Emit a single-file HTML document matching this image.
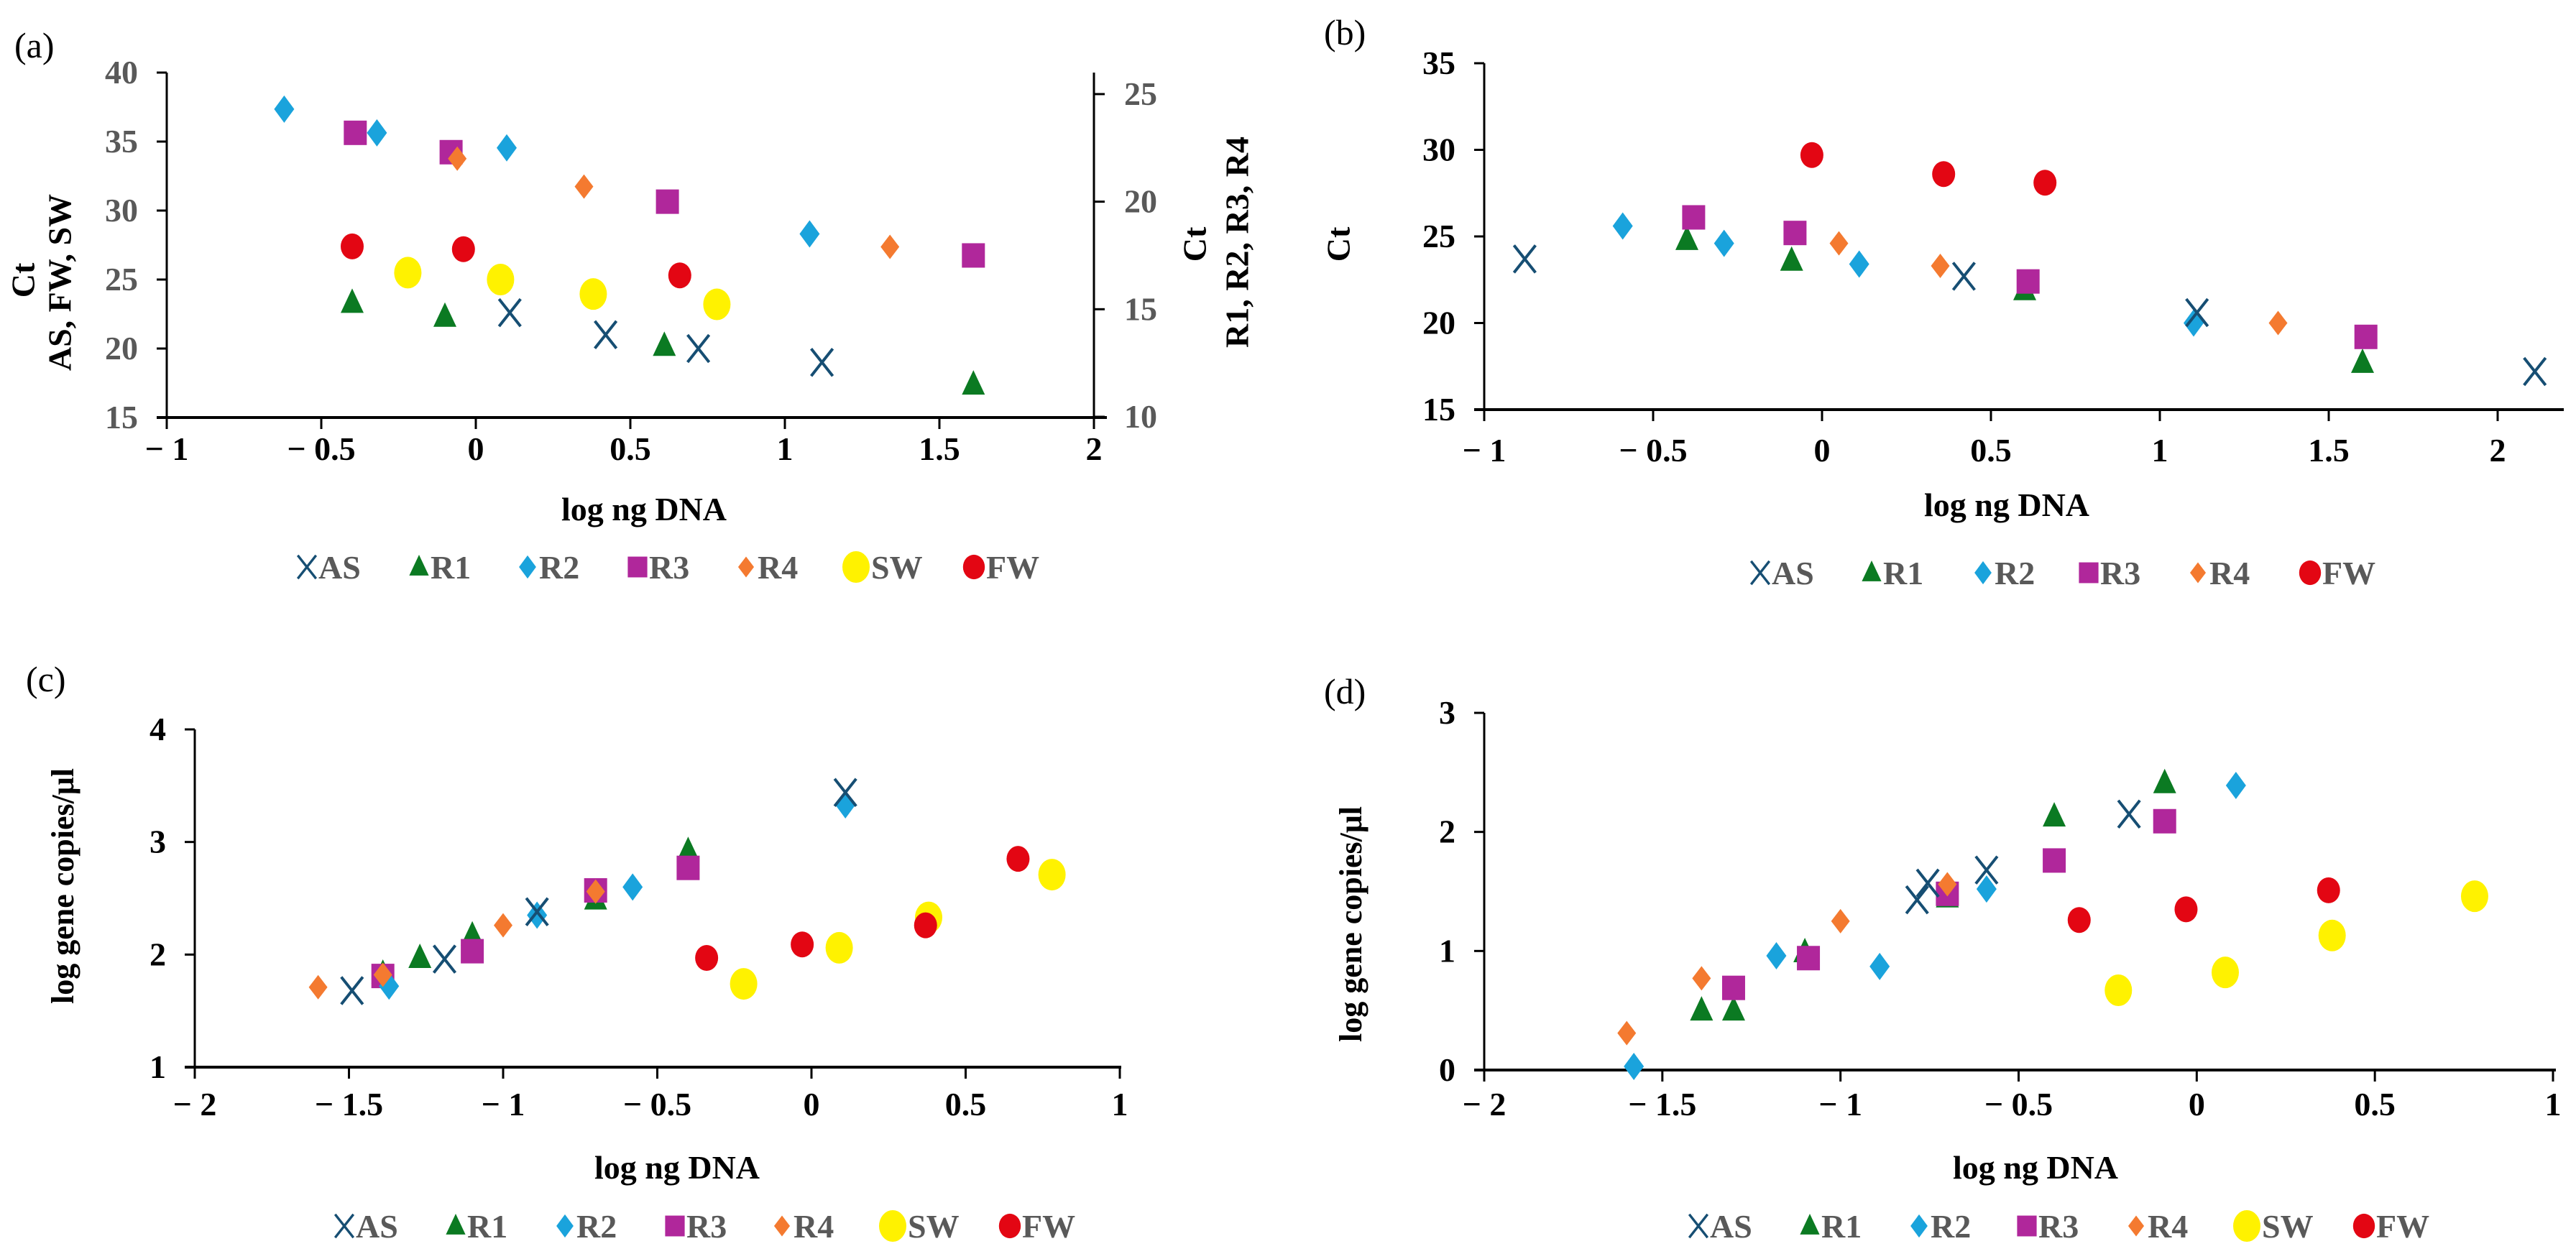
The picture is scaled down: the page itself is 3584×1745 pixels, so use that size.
<!DOCTYPE html>
<html><head><meta charset="utf-8">
<style>
html,body{margin:0;padding:0;background:#fff;}
svg{display:block;}
text{font-family:"Liberation Serif",serif;}
</style></head>
<body>
<svg id="fig" xmlns="http://www.w3.org/2000/svg" width="3584" height="1745" viewBox="0 0 3584 1745">
<rect x="0" y="0" width="3584" height="1745" fill="#fff"/>
</svg>
<script>
// ===== Panel (a) data (AS, SW, FW on left axis; R1-R4 on right axis) =====
const aAS_x=[0.11,0.42,0.72,1.12];        const aAS_y=[22.6,21.0,20.0,19.0];
const aR1_x=[-0.40,-0.10,0.61,1.61];      const aR1_y=[15.3,14.65,13.3,11.5];
const aR2_x=[-0.62,-0.32,0.10,1.08];      const aR2_y=[24.3,23.2,22.5,18.5];
const aR3_x=[-0.39,-0.08,0.62,1.61];      const aR3_y=[23.2,22.3,20.0,17.5];
const aR4_x=[-0.06,0.35,1.34];            const aR4_y=[22.0,20.7,17.9];
const aSW_x=[-0.22,0.08,0.38,0.78];       const aSW_y=[25.5,25.0,23.95,23.2];
const aFW_x=[-0.40,-0.04,0.66];           const aFW_y=[27.4,27.2,25.3];
const aXTicks=["\u2212 1","\u2212 0.5","0","0.5","1","1.5","2"];
const aYTicks=["15","20","25","30","35","40"];
const aY2Ticks=["10","15","20","25"];
// ===== Panel (b) =====
const bAS_x=[-0.88,0.42,1.11,2.11];       const bAS_y=[23.7,22.7,20.6,17.2];
const bR1_x=[-0.40,-0.09,0.60,1.60];      const bR1_y=[24.8,23.6,21.9,17.7];
const bR2_x=[-0.59,-0.29,0.11,1.10];      const bR2_y=[25.6,24.6,23.4,20.0];
const bR3_x=[-0.38,-0.08,0.61,1.61];      const bR3_y=[26.1,25.2,22.4,19.2];
const bR4_x=[0.05,0.35,1.35];             const bR4_y=[24.6,23.3,20.0];
const bFW_x=[-0.03,0.36,0.66];            const bFW_y=[29.7,28.6,28.1];
const bXTicks=["\u2212 1","\u2212 0.5","0","0.5","1","1.5","2"];
const bYTicks=["15","20","25","30","35"];
// ===== Panel (c) =====
const cAS_x=[-1.49,-1.19,-0.89,0.11];     const cAS_y=[1.68,1.96,2.38,3.44];
const cR1_x=[-1.39,-1.27,-1.10,-0.70,-0.40]; const cR1_y=[1.83,1.97,2.17,2.49,2.92];
const cR2_x=[-1.37,-0.89,-0.58,0.11];     const cR2_y=[1.72,2.35,2.60,3.33];
const cR3_x=[-1.39,-1.10,-0.70,-0.40];    const cR3_y=[1.81,2.03,2.57,2.77];
const cR4_x=[-1.60,-1.39,-1.00,-0.70];    const cR4_y=[1.71,1.82,2.26,2.56];
const cSW_x=[-0.22,0.09,0.38,0.78];       const cSW_y=[1.74,2.06,2.33,2.71];
const cFW_x=[-0.34,-0.03,0.37,0.67];      const cFW_y=[1.97,2.09,2.26,2.85];
const cXTicks=["\u2212 2","\u2212 1.5","\u2212 1","\u2212 0.5","0","0.5","1"];
const cYTicks=["1","2","3","4"];
// ===== Panel (d) =====
const dAS_x=[-0.785,-0.755,-0.59,-0.19];  const dAS_y=[1.43,1.57,1.68,2.15];
const dR1_x=[-1.39,-1.30,-1.10,-0.70,-0.40,-0.09]; const dR1_y=[0.50,0.50,0.99,1.45,2.13,2.41];
const dR2_x=[-1.58,-1.18,-0.89,-0.59,0.11]; const dR2_y=[0.03,0.96,0.87,1.52,2.39];
const dR3_x=[-1.30,-1.09,-0.70,-0.40,-0.09]; const dR3_y=[0.69,0.94,1.48,1.76,2.09];
const dR4_x=[-1.60,-1.39,-1.00,-0.70];    const dR4_y=[0.31,0.77,1.25,1.56];
const dSW_x=[-0.22,0.08,0.38,0.78];       const dSW_y=[0.67,0.82,1.13,1.46];
const dFW_x=[-0.33,-0.03,0.37];           const dFW_y=[1.26,1.35,1.51];
const dXTicks=["\u2212 2","\u2212 1.5","\u2212 1","\u2212 0.5","0","0.5","1"];
const dYTicks=["0","1","2","3"];

const NS="http://www.w3.org/2000/svg";
const svg=document.getElementById('fig');
const COL={AS:'#164e73',R1:'#0b7a22',R2:'#1aa3dc',R3:'#b0279b',R4:'#f47a30',SW:'#fff200',FW:'#e30613'};
const SHAPE={AS:'x',R1:'tri',R2:'dia',R3:'sq',R4:'dia',SW:'circ',FW:'circ'};
function mk(tag,attrs,parent){const e=document.createElementNS(NS,tag);for(const k in attrs)e.setAttribute(k,attrs[k]);(parent||svg).appendChild(e);return e;}
function txt(x,y,s,attrs,parent){const t=mk('text',Object.assign({x:x,y:y},attrs),parent);t.textContent=s;return t;}
function marker(g,name,cx,cy,sc){
  const c=COL[name],sh=SHAPE[name];let e;
  if(sh==='x'){e=mk('path',{d:`M${cx-15*sc},${cy-19*sc}L${cx+15*sc},${cy+19*sc}M${cx+15*sc},${cy-19*sc}L${cx-15*sc},${cy+19*sc}`,stroke:c,'stroke-width':4*sc,fill:'none'},g);}
  else if(sh==='tri'){e=mk('path',{d:`M${cx},${cy-20*sc}L${cx+16*sc},${cy+14*sc}L${cx-16*sc},${cy+14*sc}Z`,fill:c},g);}
  else if(sh==='dia'){const w=(name==='R4'?13:14)*sc,h=(name==='R4'?17:19)*sc;e=mk('path',{d:`M${cx},${cy-h}L${cx+w},${cy}L${cx},${cy+h}L${cx-w},${cy}Z`,fill:c},g);}
  else if(sh==='sq'){e=mk('rect',{x:cx-16*sc,y:cy-17*sc,width:32*sc,height:34*sc,fill:c},g);}
  else {const big=name==='SW';e=mk('ellipse',{cx:cx,cy:cy,rx:(big?19:16)*sc,ry:(big?22:18)*sc,fill:c},g);}
  return e;
}
function panel(P){
  const g=mk('g',{});
  
  
  const X=v=>P.px0+(v-P.xmin)/(P.xmax-P.xmin)*(P.px1-P.px0);
  const Y=v=>P.py0+(v-P.ymin)/(P.ymax-P.ymin)*(P.py1-P.py0);
  const Y2=P.y2?(v=>P.y2.py0+(v-P.y2.min)/(P.y2.max-P.y2.min)*(P.y2.py1-P.y2.py0)):null;
  // panel label
  const lab=txt(P.labX,P.labY,'('+P.id+')',{'font-size':50,fill:'#000'},g);
  
  
  // axes
  const xa=mk('line',{x1:P.px0-14,y1:P.py0,x2:P.axisEnd,y2:P.py0,stroke:'#000','stroke-width':4},g);
  
  
  const ya=mk('line',{x1:P.px0,y1:P.yTop,x2:P.px0,y2:P.py0+16,stroke:'#000','stroke-width':3},g);
  
  
  // x ticks
  P.xt.forEach((s,i)=>{const v=P.xmin+i*P.xstep,x=X(v);
    mk('line',{x1:x,y1:P.py0,x2:x,y2:P.py0+16,stroke:'#000','stroke-width':3},g);
    const t=txt(x,P.xlabY,s,{'font-size':46,'font-weight':'bold','text-anchor':'middle',fill:'#000'},g);
    
    
  });
  P.yt.forEach((s,i)=>{const v=P.ymin+i*P.ystep,y=Y(v);
    mk('line',{x1:P.px0-14,y1:y,x2:P.px0,y2:y,stroke:'#000','stroke-width':3},g);
    const t=txt(P.px0-40,y+15,s,{'font-size':46,'font-weight':'bold','text-anchor':'end',fill:P.ytCol},g);
    
    
  });
  if(P.y2){
    const ra=mk('line',{x1:P.px1,y1:P.yTop,x2:P.px1,y2:P.py0,stroke:'#000','stroke-width':3},g);
    
    
    P.y2.ticks.forEach((s,i)=>{const v=P.y2.min+i*P.y2.step,y=Y2(v);
      mk('line',{x1:P.px1,y1:y,x2:P.px1+15,y2:y,stroke:'#000','stroke-width':3},g);
      const t=txt(P.px1+42,y+15,s,{'font-size':46,'font-weight':'bold',fill:'#595959'},g);
      
      
    });
  }
  // titles
  const xt=txt(P.xtX,P.xtY,'log ng DNA',{'font-size':46,'font-weight':'bold','text-anchor':'middle',fill:'#000'},g);
  
  
  P.ytitles.forEach(o=>{
    const t=txt(0,0,o.s,{'font-size':o.fs||46,'font-weight':'bold','text-anchor':'middle',fill:'#000',transform:`translate(${o.x},${o.y}) rotate(-90)`,'dominant-baseline':'middle'},g);
    
    
  });
  // series
  P.series.forEach(S=>{
    const sg=mk('g',{},g);
    
    
    const yf=(S.right&&Y2)?Y2:Y;
    S.x.forEach((xv,i)=>{
      const m=marker(sg,S.n,X(xv),yf(S.y[i]),1);
      
      
    });
  });
  // legend
  P.leg.forEach(L=>{
    const lg=mk('g',{},g);
    
    
    const big=SHAPE[L.n]==='circ'&&L.n==='SW';
    const mw=SHAPE[L.n]==='circ'?(big?38:30):28;
    marker(lg,L.n,L.x+mw/2,P.legY,SHAPE[L.n]==='circ'?(big?1.0:0.95):0.85);
    txt(L.x+mw+2,P.legY+16,L.n,{'font-size':46,'font-weight':'bold',fill:'#595959'},lg);
  });
}
function leg(names,xs){return names.map((n,i)=>({n:n,x:xs[i]}));}

panel({id:'a',px0:232,px1:1522,xmin:-1,xmax:2,xstep:0.5,py0:581,py1:101,ymin:15,ymax:40,ystep:5,yTop:101,axisEnd:1540,
  ytCol:'#595959',xt:aXTicks,yt:aYTicks,xlabY:640,labX:20,labY:80,xtX:896,xtY:724,legY:789,
  y2:{min:10,max:26,step:5,py0:580,py1:101,ticks:aY2Ticks},
  ytitles:[{s:'Ct',x:37,y:390,name:'y-axis-title'},{s:'AS, FW, SW',x:88,y:393,name:'y-axis-title-sub'},
           {s:'Ct',x:1667,y:340,name:'secondary-y-axis-title'},{s:'R1, R2, R3, R4',x:1726,y:337,name:'secondary-y-axis-title-sub'}],
  series:[{n:'R2',x:aR2_x,y:aR2_y,right:1},{n:'R3',x:aR3_x,y:aR3_y,right:1},{n:'R4',x:aR4_x,y:aR4_y,right:1},{n:'R1',x:aR1_x,y:aR1_y,right:1},
          {n:'FW',x:aFW_x,y:aFW_y},{n:'SW',x:aSW_x,y:aSW_y},{n:'AS',x:aAS_x,y:aAS_y}],
  leg:leg(['AS','R1','R2','R3','R4','SW','FW'],[413,569,720,873,1024,1172,1340])});

panel({id:'b',px0:2065,px1:3475,xmin:-1,xmax:2,xstep:0.5,py0:570,py1:88,ymin:15,ymax:35,ystep:5,yTop:88,axisEnd:3567,
  ytCol:'#000',xt:bXTicks,yt:bYTicks,xlabY:642,labX:1842,labY:62,xtX:2792,xtY:718,legY:797,
  ytitles:[{s:'Ct',x:1867,y:340,name:'y-axis-title'}],
  series:[{n:'FW',x:bFW_x,y:bFW_y},{n:'R1',x:bR1_x,y:bR1_y},{n:'R2',x:bR2_x,y:bR2_y},{n:'R3',x:bR3_x,y:bR3_y},{n:'R4',x:bR4_x,y:bR4_y},{n:'AS',x:bAS_x,y:bAS_y}],
  leg:leg(['AS','R1','R2','R3','R4','FW'],[2435,2590,2745,2892,3044,3199])});

panel({id:'c',px0:271,px1:1558,xmin:-2,xmax:1,xstep:0.5,py0:1485,py1:1015,ymin:1,ymax:4,ystep:1,yTop:1015,axisEnd:1560,
  ytCol:'#000',xt:cXTicks,yt:cYTicks,xlabY:1552,labX:36,labY:962,xtX:942,xtY:1640,legY:1706,
  ytitles:[{s:'log gene copies/\u03bcl',x:92,y:1233,name:'y-axis-title',fs:44}],
  series:[{n:'R1',x:cR1_x,y:cR1_y},{n:'R3',x:cR3_x,y:cR3_y},{n:'R2',x:cR2_x,y:cR2_y},{n:'R4',x:cR4_x,y:cR4_y},{n:'AS',x:cAS_x,y:cAS_y},{n:'SW',x:cSW_x,y:cSW_y},{n:'FW',x:cFW_x,y:cFW_y}],
  leg:leg(['AS','R1','R2','R3','R4','SW','FW'],[465,620,772,925,1074,1223,1390])});

panel({id:'d',px0:2065,px1:3552,xmin:-2,xmax:1,xstep:0.5,py0:1489,py1:992,ymin:0,ymax:3,ystep:1,yTop:992,axisEnd:3556,
  ytCol:'#000',xt:dXTicks,yt:dYTicks,xlabY:1552,labX:1842,labY:979,xtX:2832,xtY:1640,legY:1706,
  ytitles:[{s:'log gene copies/\u03bcl',x:1884,y:1286,name:'y-axis-title',fs:44}],
  series:[{n:'R1',x:dR1_x,y:dR1_y},{n:'R3',x:dR3_x,y:dR3_y},{n:'R2',x:dR2_x,y:dR2_y},{n:'R4',x:dR4_x,y:dR4_y},{n:'AS',x:dAS_x,y:dAS_y},{n:'SW',x:dSW_x,y:dSW_y},{n:'FW',x:dFW_x,y:dFW_y}],
  leg:leg(['AS','R1','R2','R3','R4','SW','FW'],[2349,2504,2656,2806,2958,3107,3274])});
</script>
</body></html>
